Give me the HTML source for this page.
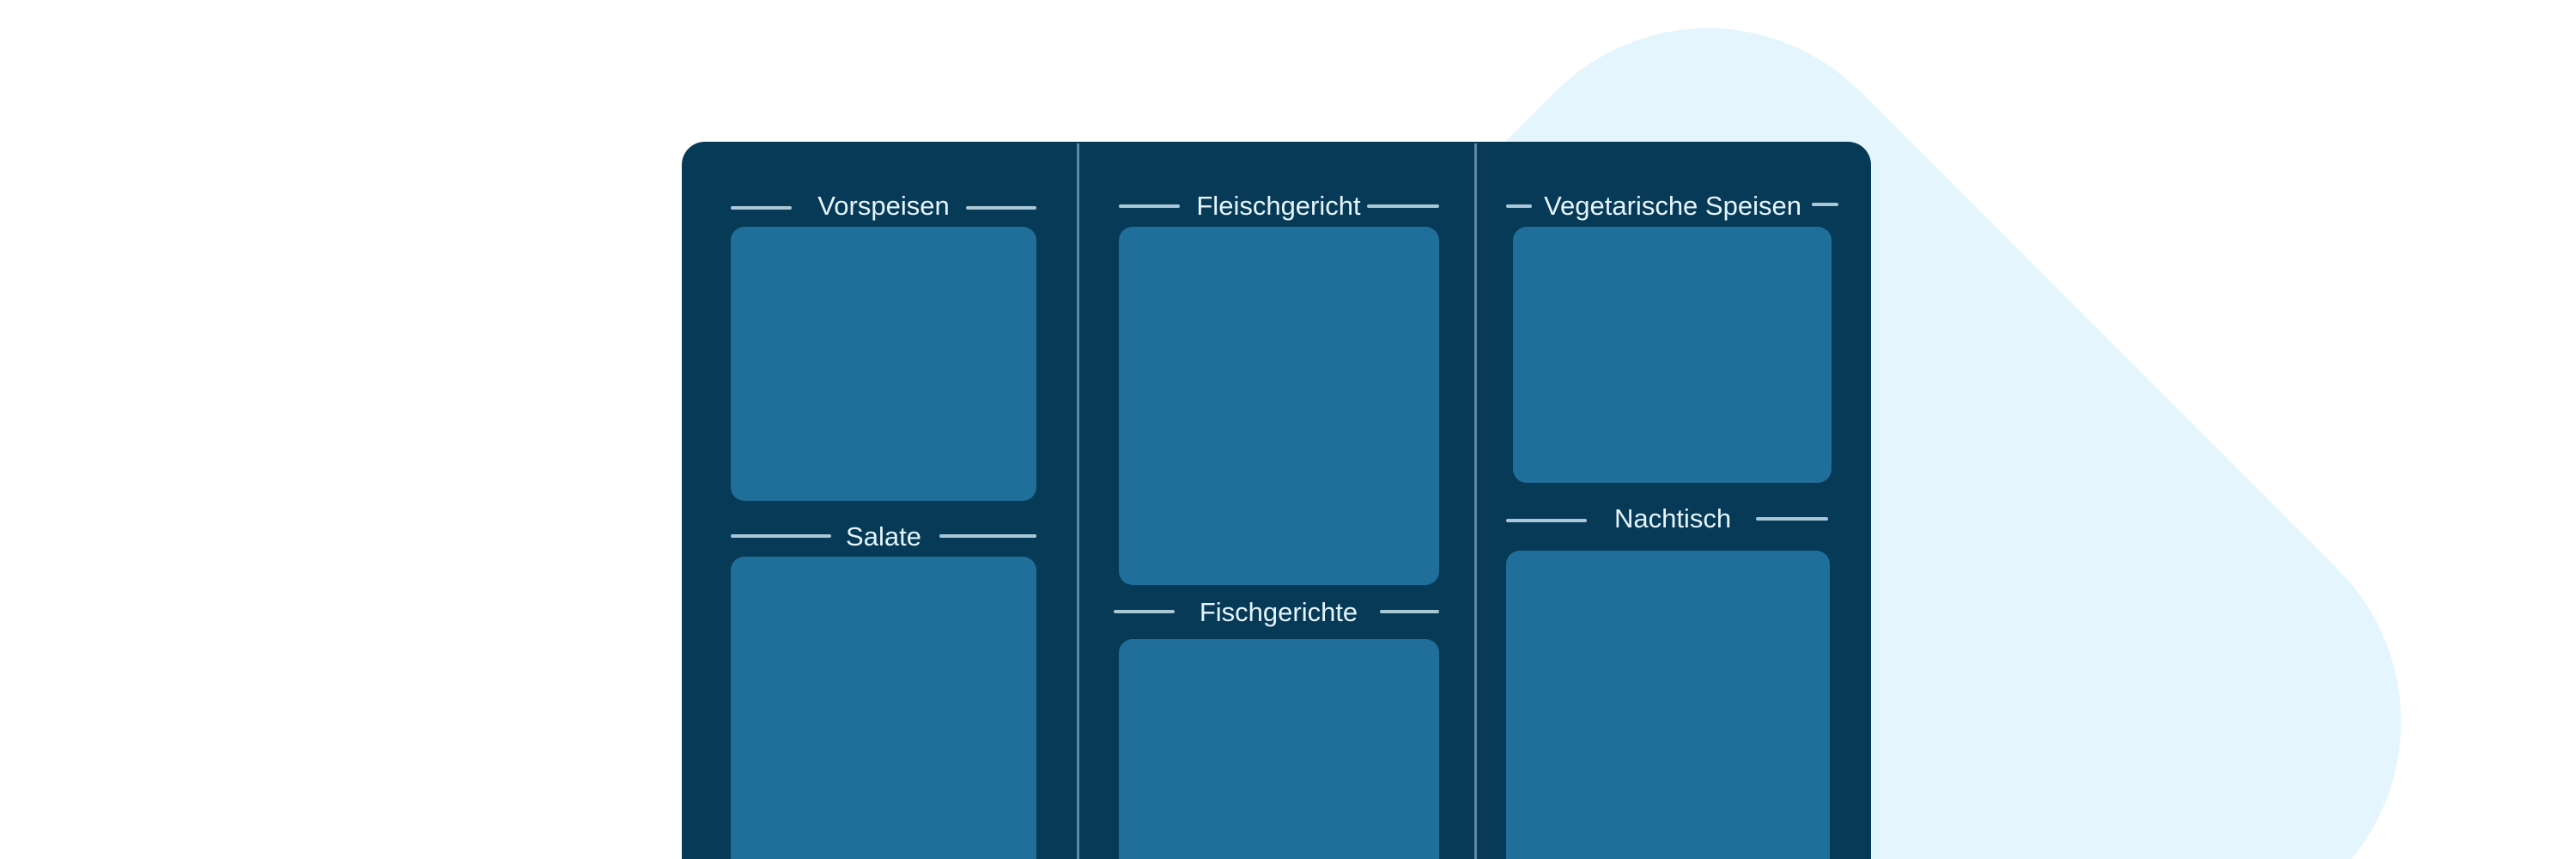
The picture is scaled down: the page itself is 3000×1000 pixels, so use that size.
<!DOCTYPE html>
<html style="overflow:hidden"><head><style>
html,body{margin:0;padding:0}
#w{width:3000px;height:1000px;overflow:hidden;background:#fff;position:relative;font-family:"Liberation Sans",sans-serif}
.a{position:absolute}
.bg{left:1345px;top:196px;width:1288px;height:1288px;border-radius:250px;background:#e4f5fd;transform:rotate(45deg)}
.panel{left:794px;top:165px;width:1385px;height:900px;background:#073a57;border-radius:27px}
.div{width:3px;background:#5f89a2;top:167px;height:840px}
.box{background:#206f9a;border-radius:16px}
.ln{height:4px;background:#a9c7d6;border-radius:2px}
.t{color:#e6f4fb;font-size:31px;line-height:31px;transform:translateX(-50%);white-space:nowrap}
</style></head><body><div id="w">
<div class="a bg"></div>
<div class="a panel"></div>
<div class="a div" style="left:1254px"></div>
<div class="a div" style="left:1717px"></div>

<div class="a t" style="left:1029px;top:224px">Vorspeisen</div>
<div class="a ln" style="left:851px;top:240px;width:71px"></div>
<div class="a ln" style="left:1125px;top:240px;width:82px"></div>
<div class="a box" style="left:851px;top:264px;width:356px;height:319px"></div>
<div class="a t" style="left:1029px;top:609px">Salate</div>
<div class="a ln" style="left:851px;top:622px;width:117px"></div>
<div class="a ln" style="left:1094px;top:622px;width:113px"></div>
<div class="a box" style="left:851px;top:648px;width:356px;height:400px"></div>

<div class="a t" style="left:1489px;top:224px">Fleischgericht</div>
<div class="a ln" style="left:1303px;top:238px;width:71px"></div>
<div class="a ln" style="left:1592px;top:238px;width:84px"></div>
<div class="a box" style="left:1303px;top:264px;width:373px;height:417px"></div>
<div class="a t" style="left:1489px;top:697px">Fischgerichte</div>
<div class="a ln" style="left:1297px;top:710px;width:71px"></div>
<div class="a ln" style="left:1607px;top:710px;width:69px"></div>
<div class="a box" style="left:1303px;top:744px;width:373px;height:300px"></div>

<div class="a t" style="left:1948px;top:224px">Vegetarische Speisen</div>
<div class="a ln" style="left:1754px;top:238px;width:30px"></div>
<div class="a ln" style="left:2110px;top:236px;width:31px"></div>
<div class="a box" style="left:1762px;top:264px;width:371px;height:298px"></div>
<div class="a t" style="left:1948px;top:588px">Nachtisch</div>
<div class="a ln" style="left:1754px;top:604px;width:94px"></div>
<div class="a ln" style="left:2045px;top:602px;width:84px"></div>
<div class="a box" style="left:1754px;top:641px;width:377px;height:400px"></div>
</div></body></html>
